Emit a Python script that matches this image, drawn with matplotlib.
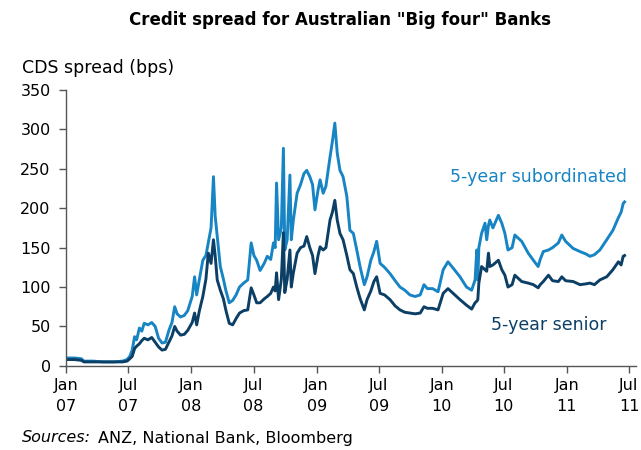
import matplotlib
matplotlib.use("Agg")
import matplotlib.pyplot as plt
import pandas as pd

# weekly-ish CDS spreads (bps) for the big four banks
dates = [
    "2007-01-02", "2007-01-25", "2007-02-15", "2007-02-22", "2007-03-20", "2007-04-20",
    "2007-05-20", "2007-06-15", "2007-06-28", "2007-07-06", "2007-07-13", "2007-07-20",
    "2007-07-26", "2007-08-03", "2007-08-10", "2007-08-17", "2007-08-28", "2007-09-08",
    "2007-09-18", "2007-09-28", "2007-10-08", "2007-10-18", "2007-10-28", "2007-11-06",
    "2007-11-14", "2007-11-21", "2007-12-01", "2007-12-12", "2007-12-22",
    "2008-01-04", "2008-01-11", "2008-01-17", "2008-01-25", "2008-02-04", "2008-02-13",
    "2008-02-20", "2008-02-28", "2008-03-06", "2008-03-11", "2008-03-17", "2008-03-26",
    "2008-04-04", "2008-04-11", "2008-04-21", "2008-05-01", "2008-05-11", "2008-05-21",
    "2008-06-02", "2008-06-14", "2008-06-24", "2008-07-02", "2008-07-10", "2008-07-20",
    "2008-08-01", "2008-08-10", "2008-08-20", "2008-08-28", "2008-09-02", "2008-09-06",
    "2008-09-12", "2008-09-20", "2008-09-26", "2008-09-30", "2008-10-07", "2008-10-15",
    "2008-10-19", "2008-10-25", "2008-11-05", "2008-11-15", "2008-11-25", "2008-12-03",
    "2008-12-12", "2008-12-20", "2008-12-27",
    "2009-01-05", "2009-01-11", "2009-01-20", "2009-01-28", "2009-02-09", "2009-02-16",
    "2009-02-23", "2009-03-02", "2009-03-10", "2009-03-19", "2009-03-30", "2009-04-08",
    "2009-04-18", "2009-04-28", "2009-05-08", "2009-05-20", "2009-05-28", "2009-06-08",
    "2009-06-17", "2009-06-25", "2009-07-05", "2009-07-18", "2009-08-03", "2009-08-18",
    "2009-09-01", "2009-09-15", "2009-09-30", "2009-10-15", "2009-10-30", "2009-11-10",
    "2009-11-20", "2009-12-05", "2009-12-21",
    "2010-01-05", "2010-01-19", "2010-02-03", "2010-02-23", "2010-03-14", "2010-03-29",
    "2010-04-08", "2010-04-13", "2010-04-16", "2010-04-19", "2010-04-27", "2010-05-07",
    "2010-05-12", "2010-05-17", "2010-05-21", "2010-05-30", "2010-06-15", "2010-06-25",
    "2010-07-04", "2010-07-13", "2010-07-25", "2010-08-02", "2010-08-22", "2010-09-10",
    "2010-09-25", "2010-10-09", "2010-10-15", "2010-10-24", "2010-11-08", "2010-11-20",
    "2010-12-07", "2010-12-17", "2010-12-28",
    "2011-01-19", "2011-02-08", "2011-02-25", "2011-03-09", "2011-03-22", "2011-04-07",
    "2011-04-27", "2011-05-15", "2011-05-31", "2011-06-08", "2011-06-14", "2011-06-18",
]

subordinated = [
    10, 10, 9, 6, 6, 5, 5, 6, 8, 12, 20, 37,
    33, 48, 44, 54, 52, 55, 50, 35, 29, 30, 45, 55,
    75, 66, 62, 64, 70,
    88, 113, 90, 110, 134, 140, 156, 175, 240, 190, 164, 126,
    110, 96, 80, 83, 90, 100, 105, 109, 156, 140, 134, 121,
    130, 139, 135, 156, 150, 232, 160, 175, 276, 147, 160, 242,
    160, 185, 219, 230, 244, 248, 240, 230, 198,
    223, 236, 219, 228, 265, 285, 308, 270, 248, 240, 215, 172,
    168, 147, 125, 103, 113, 134, 145, 158, 130, 125, 117, 108,
    100, 96, 90, 88, 90, 103, 98, 98, 94,
    122, 132, 124, 113, 100, 96, 109, 147, 109, 150, 168, 181,
    160, 178, 185, 175, 191, 181, 168, 147, 150, 166, 158, 143,
    134, 126, 135, 145, 147, 150, 156, 166, 158,
    149, 145, 142, 139, 141, 147, 160, 172, 188, 195, 206, 208,
]

senior = [
    8, 8, 7, 5, 5, 5, 5, 5, 6, 9, 12, 22,
    25, 28, 32, 35, 33, 36, 30, 24, 20, 21, 30, 38,
    50, 44, 39, 40, 45,
    55, 67, 52, 70, 88, 110, 143, 130, 160, 140, 109, 96,
    85, 71, 54, 52, 60, 67, 70, 71, 99, 90, 80, 80,
    85, 88, 92, 100, 95, 118, 84, 110, 169, 93, 110, 147,
    100, 118, 143, 150, 152, 164, 150, 140, 117,
    140, 151, 147, 150, 185, 195, 210, 185, 168, 160, 140, 122,
    117, 100, 85, 71, 84, 95, 107, 113, 92, 90, 84, 76,
    71, 68, 67, 66, 67, 75, 73, 73, 71,
    92, 98, 92, 84, 77, 72, 80, 82, 84, 105, 126, 122,
    120, 143, 126, 128, 134, 122, 115, 100, 103, 115, 107, 105,
    103, 99, 103, 107, 115, 108, 107, 113, 108,
    107, 103, 104, 105, 103, 109, 113, 122, 132, 128, 139, 140,
]

tick_dates = ["2007-01-01", "2007-07-01", "2008-01-01", "2008-07-01", "2009-01-01",
              "2009-07-01", "2010-01-01", "2010-07-01", "2011-01-01", "2011-07-01"]
tick_labels = ["Jan\n07", "Jul\n07", "Jan\n08", "Jul\n08", "Jan\n09",
               "Jul\n09", "Jan\n10", "Jul\n10", "Jan\n11", "Jul\n11"]

light_blue = "#1784c4"
dark_blue = "#0c3f66"
axis_grey = "#555555"

plt.rcParams["font.family"] = ["DejaVu Sans"]

x = pd.to_datetime(dates)

fig = plt.figure(figsize=(6.41, 4.5), dpi=100)
ax = fig.add_axes([0.103, 0.187, 0.889, 0.613])

ax.plot(x, subordinated, color=light_blue, lw=2.1, solid_joinstyle="round")
ax.plot(x, senior, color=dark_blue, lw=2.1, solid_joinstyle="round")

ax.set_ylim(0, 350)
ax.set_yticks(range(0, 351, 50))
ax.set_xlim(pd.Timestamp("2007-01-01"), pd.Timestamp("2011-07-21"))
ax.set_xticks(pd.to_datetime(tick_dates))
ax.set_xticklabels(tick_labels)

for side in ["top", "right"]:
    ax.spines[side].set_visible(False)
for side in ["left", "bottom"]:
    ax.spines[side].set_color(axis_grey)
    ax.spines[side].set_linewidth(1.0)
ax.tick_params(axis="both", direction="out", length=5, width=1.0, color=axis_grey,
               labelsize=11.5, labelcolor="black")
ax.tick_params(axis="x", pad=4)
ax.tick_params(axis="y", pad=6)
for lbl in ax.get_xticklabels():
    lbl.set_linespacing(1.5)

ax.text(pd.Timestamp("2011-06-24"), 240, "5-year subordinated", color=light_blue,
        fontsize=12.5, ha="right", va="center")
ax.text(pd.Timestamp("2011-04-25"), 52, "5-year senior", color=dark_blue,
        fontsize=12.5, ha="right", va="center")

fig.text(0.53, 0.955, 'Credit spread for Australian "Big four" Banks',
         ha="center", va="center", fontsize=12, fontweight="bold")
fig.text(22 / 641, 1 - 68 / 450, "CDS spread (bps)", ha="left", va="center", fontsize=12.5)

src = fig.text(22 / 641, 1 - 438 / 450, "Sources:", ha="left", va="center",
               fontsize=11.5, style="italic")
fig.canvas.draw()
bb = src.get_window_extent(renderer=fig.canvas.get_renderer())
fig.text((bb.x1 + 7) / 641, 1 - 438 / 450, "ANZ, National Bank, Bloomberg",
         ha="left", va="center", fontsize=11.5)

fig.savefig("out.png", dpi=100)
